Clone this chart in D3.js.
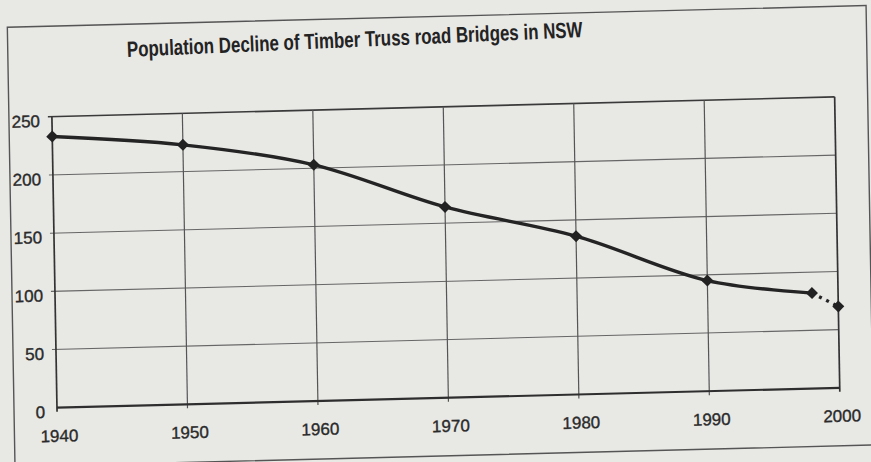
<!DOCTYPE html>
<html>
<head>
<meta charset="utf-8">
<script src="https://cdn.jsdelivr.net/npm/d3@7"></script>
<style>
  html, body { margin: 0; padding: 0; background: #e8e8e5; }
  svg { display: block; }
  text { font-family: "Liberation Sans", Arial, Helvetica, sans-serif; fill: #2a2a2a; }
</style>
</head>
<body>
<svg id="chart" width="871" height="462"></svg>
<script>
// ---- data ----
const titleText = "Population Decline of Timber Truss road Bridges in NSW";
const years = [1940, 1950, 1960, 1970, 1980, 1990, 1998, 2000];
const bridges = [233, 223, 203, 164, 136, 95, 82, 70];
const xTickValues = [1940, 1950, 1960, 1970, 1980, 1990, 2000];
const yTickValues = [0, 50, 100, 150, 200, 250];

const W = 871, H = 462;
const plotW = 783, plotH = 291;

const svg = d3.select("#chart");
svg.append("rect").attr("width", W).attr("height", H).attr("fill", "#e8e8e5");

// The scanned page is slightly tilted; draw in a local frame then tilt it.
const g = svg.append("g")
  .attr("transform", "matrix(0.99968,-0.0253,0.01745,0.99985,51.9,116.7)");

const x = d3.scaleLinear().domain([1940, 2000]).range([0, plotW]);
const y = d3.scaleLinear().domain([0, 250]).range([plotH, 0]);

// outer frame
g.append("rect")
  .attr("x", -43).attr("y", -90.5)
  .attr("width", 859).attr("height", 439.5)
  .attr("fill", "none").attr("stroke", "#555").attr("stroke-width", 1.4);

// horizontal gridlines
g.selectAll("line.hgrid").data(yTickValues.filter(d => d > 0)).join("line")
  .attr("class", "hgrid")
  .attr("x1", -4).attr("x2", plotW)
  .attr("y1", d => y(d)).attr("y2", d => y(d))
  .attr("stroke", d => d === 250 ? "#3a3a3a" : "#666")
  .attr("stroke-width", d => d === 250 ? 1.6 : 1.1);

// vertical gridlines
g.selectAll("line.vgrid").data(xTickValues).join("line")
  .attr("class", "vgrid")
  .attr("x1", d => x(d)).attr("x2", d => x(d))
  .attr("y1", 0).attr("y2", plotH + 4)
  .attr("stroke", d => (d === 1940 || d === 2000) ? "#333" : "#555")
  .attr("stroke-width", d => (d === 1940 || d === 2000) ? 1.7 : 1.2);

// axes (labels)
const xAxis = g.append("g")
  .attr("transform", `translate(1.5,${plotH})`)
  .call(d3.axisBottom(x).tickValues(xTickValues).tickFormat(d3.format("d"))
        .tickSize(0).tickPadding(22));
xAxis.select(".domain").remove();
xAxis.selectAll("text").attr("font-size", 17)
  .style("fill", "#2a2a2a").style("stroke", "#2a2a2a").style("stroke-width", 0.35)
  .attr("font-family", "Liberation Sans, Arial, sans-serif");

const yAxis = g.append("g")
  .call(d3.axisLeft(y).tickValues(yTickValues).tickSize(0).tickPadding(12));
yAxis.select(".domain").remove();
yAxis.selectAll("text").attr("font-size", 17)
  .style("fill", "#2a2a2a").style("stroke", "#2a2a2a").style("stroke-width", 0.35)
  .attr("transform", "translate(0,4)")
  .attr("font-family", "Liberation Sans, Arial, sans-serif");

// bottom axis line
g.append("line")
  .attr("x1", x(1940)).attr("x2", x(2000))
  .attr("y1", y(0)).attr("y2", y(0))
  .attr("stroke", "#2e2e2e").attr("stroke-width", 2.2);

// data line
const pts = years.map((yr, i) => [x(yr), y(bridges[i])]);
const line = d3.line().curve(d3.curveCatmullRom.alpha(0.5));
g.append("path")
  .attr("d", line(pts.slice(0, 7)))
  .attr("fill", "none").attr("stroke", "#242424").attr("stroke-width", 3.3);
g.append("path")
  .attr("d", d3.line()(pts.slice(6, 8)))
  .attr("fill", "none").attr("stroke", "#242424").attr("stroke-width", 3.3)
  .attr("stroke-dasharray", "3,5");

// markers
const sym = d3.symbol().type(d3.symbolSquare).size(72);
g.selectAll("path.mk").data(pts).join("path")
  .attr("class", "mk")
  .attr("d", sym)
  .attr("transform", d => `translate(${d[0]},${d[1]}) rotate(45)`)
  .attr("fill", "#222");

// title
svg.append("text")
  .attr("x", 355).attr("y", 47)
  .attr("text-anchor", "middle")
  .attr("font-size", 22).attr("font-weight", "bold")
  .attr("textLength", 456).attr("lengthAdjust", "spacingAndGlyphs")
  .attr("transform", "rotate(-2.5,355,47)")
  .style("fill", "#232323")
  .text(titleText);
</script>
</body>
</html>
